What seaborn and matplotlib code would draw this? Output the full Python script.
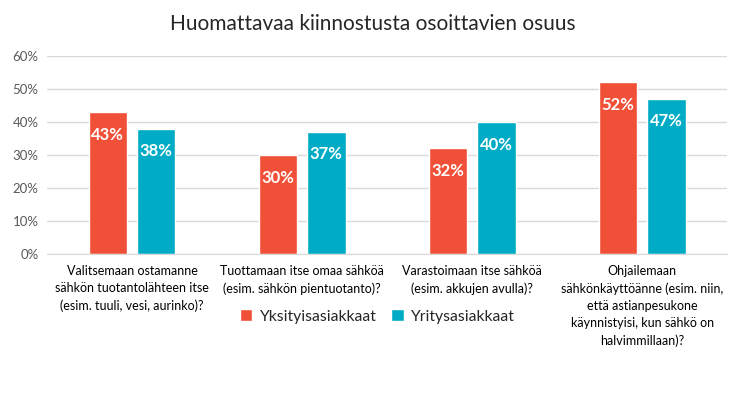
import matplotlib
matplotlib.use("Agg")
import matplotlib.pyplot as plt
import seaborn as sns
import pandas as pd

# Data
categories = [
    "Valitsemaan ostamanne\nsähkön tuotantolähteen itse\n(esim. tuuli, vesi, aurinko)?",
    "Tuottamaan itse omaa sähköä\n(esim. sähkön pientuotanto)?",
    "Varastoimaan itse sähköä\n(esim. akkujen avulla)?",
    "Ohjailemaan\nsähkönkäyttöänne (esim. niin,\nettä astianpesukone\nkäynnistyisi, kun sähkö on\nhalvimmillaan)?",
]
series = ["Yksityisasiakkaat", "Yritysasiakkaat"]
yksityis = [43, 30, 32, 52]
yritys = [38, 37, 40, 47]
colors = ["#F05038", "#00ACC5"]

df = pd.DataFrame({
    "kategoria": categories * 2,
    "ryhma": [series[0]] * 4 + [series[1]] * 4,
    "osuus": yksityis + yritys,
})

sns.set_style("white")
plt.rcParams["font.family"] = ["Lato", "DejaVu Sans"]

fig = plt.figure(figsize=(7.46, 3.97), dpi=100)
ax = fig.add_axes([0.063, 0.36, 0.912, 0.499])

sns.barplot(data=df, x="kategoria", y="osuus", hue="ryhma", palette=colors,
            width=0.568, gap=0.204, saturation=1, ax=ax, legend=True)

# Prosenttiluvut palkkien yläosaan
for cont in ax.containers:
    labels = [f"{int(round(b.get_height()))}%" for b in cont]
    ax.bar_label(cont, labels=labels, padding=-22, color="white",
                 fontsize=12, fontweight="bold")

ax.set_ylim(0, 60)
ax.set_yticks(range(0, 61, 10))
ax.set_yticklabels([f"{v}%" for v in range(0, 61, 10)], color="#595959", fontsize=9.5)
ax.yaxis.grid(True, color="#D9D9D9", linewidth=1)
ax.set_axisbelow(True)
ax.tick_params(axis="x", labelsize=9, colors="black", length=0, pad=8)
for lbl in ax.get_xticklabels():
    lbl.set_linespacing(1.5)
ax.tick_params(axis="y", length=0, pad=6)
ax.set_xlabel("")
ax.set_ylabel("")
for side in ["top", "right", "left"]:
    ax.spines[side].set_visible(False)
ax.spines["bottom"].set_color("#D9D9D9")

ax.legend(loc="center", bbox_to_anchor=(0.485, -0.315),
          ncol=2, frameon=False, fontsize=11.3, handlelength=0.8, handleheight=0.8,
          columnspacing=1.0, handletextpad=0.4)

fig.suptitle("Huomattavaa kiinnostusta osoittavien osuus", fontsize=15, y=0.965)

fig.savefig("out.png", dpi=100)
